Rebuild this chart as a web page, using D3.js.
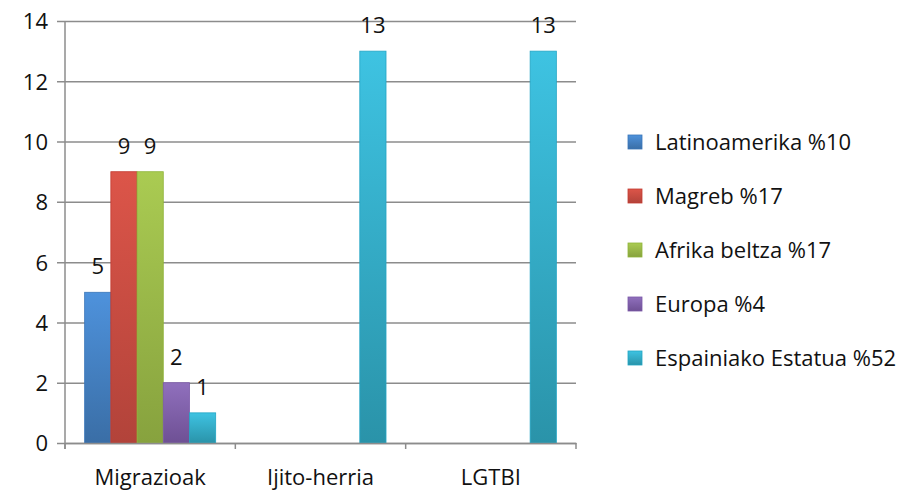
<!DOCTYPE html>
<html>
<head>
<meta charset="utf-8">
<script src="https://cdn.jsdelivr.net/npm/d3@7"></script>
<style>
  body { margin: 0; background: #fff; }
  svg text { font-family: "Open Sans", "Noto Sans", sans-serif; fill: #111; }
</style>
</head>
<body>
<div id="chart"></div>
<script>
// Data
const categories = ["Migrazioak", "Ijito-herria", "LGTBI"];
const seriesNames = ["Latinoamerika %10", "Magreb %17", "Afrika beltza %17", "Europa %4", "Espainiako Estatua %52"];
const latinoamerika = [5, 0, 0];
const magreb = [9, 0, 0];
const afrikaBeltza = [9, 0, 0];
const europa = [2, 0, 0];
const espainia = [1, 13, 13];
const yTicks = [0, 2, 4, 6, 8, 10, 12, 14];

// top / bottom gradient colours per series
const colors = [
    ["#4e92dc", "#3a6ea6"],
    ["#dc5549", "#b2433a"],
    ["#aacb52", "#87a23e"],
    ["#9070bd", "#6e5094"],
    ["#3ec3e2", "#2a93a9"]
];
const edges = ["#3a75b8", "#c23a30", "#8fb43a", "#7a58a8", "#22a5c4"];

const values = [latinoamerika, magreb, afrikaBeltza, europa, espainia];

function BarChart() {
    const width = 907;
    const height = 492;
    const margin = { left: 65, right: 331, top: 21, bottom: 49 };
    const fontSize = "22px";

    const svg = d3.select("#chart")
        .append("svg")
        .attr("width", width)
        .attr("height", height);

    // Gradients for the bars
    const defs = svg.append("defs");
    colors.forEach((c, i) => {
        const g = defs.append("linearGradient")
            .attr("id", "grad" + i)
            .attr("x1", 0).attr("y1", 0)
            .attr("x2", 0).attr("y2", 1);
        g.append("stop").attr("offset", "0%").attr("stop-color", c[0]);
        g.append("stop").attr("offset", "100%").attr("stop-color", c[1]);
    });

    const x0 = d3.scaleBand()
        .domain(categories)
        .range([margin.left, width - margin.right]);

    const x1 = d3.scaleBand()
        .domain(d3.range(seriesNames.length))
        .range([0, x0.bandwidth()])
        .paddingOuter(0.75);

    const y = d3.scaleLinear()
        .domain([0, 14])
        .range([height - margin.bottom, margin.top]);

    // Gridlines + y tick labels
    const yAxis = svg.append("g")
        .attr("transform", `translate(${margin.left},0)`)
        .call(d3.axisLeft(y)
            .tickValues(yTicks)
            .tickSize(-(width - margin.right - margin.left))
            .tickPadding(17)
            .tickSizeOuter(0));
    yAxis.select(".domain").remove();
    yAxis.selectAll(".tick line")
        .attr("x1", -8)
        .attr("stroke", "#8c8c8c")
        .attr("stroke-width", 1.5);
    yAxis.selectAll(".tick text")
        .style("font-size", fontSize)
        .attr("dy", "0.36em");

    // Vertical axis line
    svg.append("line")
        .attr("x1", margin.left).attr("x2", margin.left)
        .attr("y1", y(14)).attr("y2", y(0) + 6)
        .attr("stroke", "#8c8c8c")
        .attr("stroke-width", 1.5);

    // Bars
    const groups = svg.selectAll(".group")
        .data(categories)
        .enter()
        .append("g")
        .attr("class", "group")
        .attr("transform", (d) => `translate(${x0(d)},0)`);

    groups.selectAll("rect")
        .data((d, ci) => values.map((v, si) => ({ si: si, v: v[ci] })))
        .enter()
        .append("rect")
        .attr("x", (d) => x1(d.si))
        .attr("y", (d) => y(d.v))
        .attr("width", x1.bandwidth())
        .attr("height", (d) => y(0) - y(d.v))
        .attr("fill", (d) => "url(#grad" + d.si + ")")
        .attr("stroke", (d) => d.v > 0 ? edges[d.si] : "none")
        .attr("stroke-width", 0.8);

    // Value labels
    groups.selectAll(".val")
        .data((d, ci) => values.map((v, si) => ({ si: si, v: v[ci] })).filter((d) => d.v > 0))
        .enter()
        .append("text")
        .attr("class", "val")
        .attr("x", (d) => x1(d.si) + x1.bandwidth() / 2)
        .attr("y", (d) => y(d.v) - 18)
        .attr("text-anchor", "middle")
        .style("font-size", fontSize)
        .text((d) => d.v);

    // X axis
    const xAxis = svg.append("g")
        .attr("transform", `translate(0,${y(0)})`)
        .call(d3.axisBottom(x0).tickSize(0).tickPadding(0).tickSizeOuter(0));
    xAxis.select(".domain")
        .attr("stroke", "#8c8c8c")
        .attr("stroke-width", 1.5);
    xAxis.selectAll(".tick text")
        .attr("y", 42)
        .attr("dy", 0)
        .style("font-size", fontSize);

    // Category separator ticks
    const sep = categories.map((c) => x0(c)).concat([x0(categories[categories.length - 1]) + x0.bandwidth()]);
    svg.selectAll(".sep")
        .data(sep)
        .enter()
        .append("line")
        .attr("x1", (d) => d).attr("x2", (d) => d)
        .attr("y1", y(0)).attr("y2", y(0) + 6)
        .attr("stroke", "#8c8c8c")
        .attr("stroke-width", 1.5);

    // Legend
    const legend = svg.selectAll(".legend")
        .data(seriesNames)
        .enter()
        .append("g")
        .attr("class", "legend")
        .attr("transform", (d, i) => `translate(628,${142 + i * 54})`);

    legend.append("rect")
        .attr("x", 0)
        .attr("y", -7)
        .attr("width", 14)
        .attr("height", 14)
        .attr("fill", (d, i) => "url(#grad" + i + ")")
        .attr("stroke", (d, i) => edges[i])
        .attr("stroke-width", 0.8);

    legend.append("text")
        .attr("x", 27)
        .attr("y", 0)
        .attr("dy", "0.36em")
        .style("font-size", fontSize)
        .text((d) => d);
}

BarChart();
</script>
</body>
</html>
